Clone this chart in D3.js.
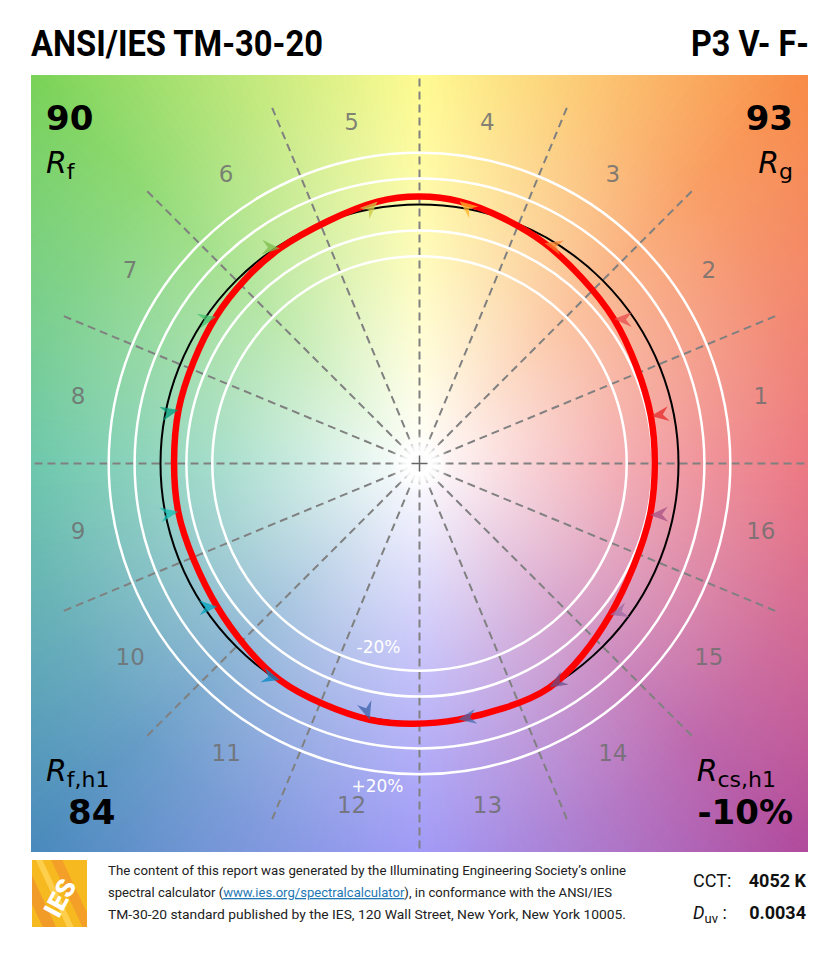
<!DOCTYPE html>
<html>
<head>
<meta charset="utf-8">
<script src="https://cdn.jsdelivr.net/npm/d3@7"></script>
<style>
  html, body { margin: 0; padding: 0; background: #fff; }
  svg { display: block; }
</style>
</head>
<body>
<div id="chart"></div>
<script>
// hue bins 1..16
const binLabels = ["1","2","3","4","5","6","7","8","9","10","11","12","13","14","15","16"]
// test hue angle (deg) and relative chroma for each bin
const testHue = [11.6, 36.6, 60.4, 81.3, 99.1, 123.0, 144.2, 167.5, 191.3, 215.3, 237.2, 259.0, 278.6, 300.1, 321.5, 347.4]
const testRadius = [0.912, 0.935, 0.978, 1.024, 1.024, 0.99, 0.969, 0.953, 0.95, 0.957, 0.995, 1.008, 1.0, 1.0, 0.94, 0.912]
const binColors = ["#e62828","#e74b4b","#fb812e","#ffb529","#cbca46","#7eb94c","#41c06d","#009c7c",
                   "#16bcb0","#00a4bf","#0085c3","#3b62aa","#4568ae","#6a4e85","#9d69a1","#a74f81"]
const ringLevels = [0.8, 0.9, 1.1, 1.2]
const ringLabels = ["-20%", "+20%"]

// background hue wheel stops (deg)
const bgAngles = [0, 45, 90, 135, 180, 225, 270, 315, 360]
const bgColors = ["#e85a66","#f88a44","#fffa78","#78d256","#4cbb98","#4688bb","#8c84f5","#b0489b","#e85a66"]

const title = "ANSI/IES TM-30-20"
const sourceName = "P3 V- F-"
const Rf = "90", Rg = "93", Rfh1 = "84", Rcsh1 = "-10%"
const cctValue = "4052 K", duvValue = "0.0034"
const footerLines = [
  "The content of this report was generated by the Illuminating Engineering Society\u2019s online",
  ["spectral calculator (", "www.ies.org/spectralcalculator", "), in conformance with the ANSI/IES"],
  "TM-30-20 standard published by the IES, 120 Wall Street, New York, New York 10005."
]

const W = 839, H = 960
const plot = {x: 31, y: 75, size: 777}
const cx = plot.x + plot.size / 2, cy = plot.y + plot.size / 2
const R = 259

const svg = d3.select("#chart").append("svg")
    .attr("width", W).attr("height", H)
    .attr("viewBox", [0, 0, W, H])

const defs = svg.append("defs")
defs.append("clipPath").attr("id", "plotclip")
    .append("rect")
    .attr("x", plot.x).attr("y", plot.y)
    .attr("width", plot.size).attr("height", plot.size)

const glow = defs.append("radialGradient").attr("id", "whiteglow")
    .attr("gradientUnits", "userSpaceOnUse")
    .attr("cx", cx).attr("cy", cy).attr("r", 560)
;[[0,1],[0.05,0.93],[0.2,0.72],[0.35,0.52],[0.5,0.36],[0.7,0.18],[1,0]].forEach(s => {
  glow.append("stop").attr("offset", s[0]).attr("stop-color", "#fff").attr("stop-opacity", s[1])
})
const centerGlow = defs.append("radialGradient").attr("id", "centerglow")
;[[0,1],[0.55,0.9],[1,0]].forEach(s => {
  centerGlow.append("stop").attr("offset", s[0]).attr("stop-color", "#fff").attr("stop-opacity", s[1])
})

// scales
const rScale = d3.scaleLinear().domain([0, 1]).range([0, R])
const toRad = d => (90 - d) * Math.PI / 180      // math degrees -> d3 radial angle
const hueColor = d3.scaleLinear().domain(bgAngles).range(bgColors).interpolate(d3.interpolateRgb)
const px = (hue, r) => cx + r * Math.cos(hue * Math.PI / 180)
const py = (hue, r) => cy - r * Math.sin(hue * Math.PI / 180)

//background wheel
const bg = svg.append("g").attr("clip-path", "url(#plotclip)")
const arc = d3.arc().innerRadius(0).outerRadius(600)
bg.selectAll("path.wedge")
    .data(d3.range(0, 360, 1)).enter()
    .append("path")
    .attr("class", "wedge")
    .attr("transform", `translate(${cx},${cy})`)
    .attr("d", a => arc({startAngle: toRad(a + 0.6), endAngle: toRad(a - 0.6)}))
    .attr("fill", a => hueColor(a))
    .attr("stroke", a => hueColor(a)).attr("stroke-width", 0.6)
bg.append("rect")
    .attr("x", plot.x).attr("y", plot.y)
    .attr("width", plot.size).attr("height", plot.size)
    .attr("fill", "url(#whiteglow)")

// bin boundary lines
const g = svg.append("g")
g.selectAll("line.bin")
    .data(d3.range(16).map(i => i * 22.5)).enter()
    .append("line")
    .attr("x1", cx).attr("y1", cy)
    .attr("x2", d => px(d, 389)).attr("y2", d => py(d, 389))
    .attr("stroke", "#808080").attr("stroke-width", 2)
    .attr("stroke-dasharray", "8,5")
g.append("circle").attr("cx", cx).attr("cy", cy).attr("r", 30).attr("fill", "url(#centerglow)")
g.append("path")
    .attr("d", `M${cx - 8},${cy}H${cx + 8}M${cx},${cy - 8}V${cy + 8}`)
    .attr("stroke", "#666").attr("stroke-width", 1.5)

// hue bin labels
g.selectAll("text.binlabel")
    .data(binLabels).enter()
    .append("text")
    .attr("x", (d, i) => px((i + 0.5) * 22.5, 348))
    .attr("y", (d, i) => py((i + 0.5) * 22.5, 348))
    .attr("text-anchor", "middle").attr("dominant-baseline", "central")
    .style("font-family", "'DejaVu Sans', Verdana, sans-serif").style("font-size", "23px")
    .attr("fill", "#6f6f6f").attr("fill-opacity", 0.85)
    .text(d => d)

// rings
g.selectAll("circle.ring")
    .data(ringLevels).enter()
    .append("circle")
    .attr("cx", cx).attr("cy", cy).attr("r", d => rScale(d))
    .attr("fill", "none").attr("stroke", "#fff").attr("stroke-width", 2.5)
g.append("text")
    .attr("x", cx - 41).attr("y", cy + rScale(0.8) - 18)
    .attr("text-anchor", "middle")
    .style("font-family", "'DejaVu Sans', Verdana, sans-serif").style("font-size", "17px")
    .attr("fill", "#fff").text(ringLabels[0])
g.append("text")
    .attr("x", cx - 42).attr("y", cy + rScale(1.2) + 18)
    .attr("text-anchor", "middle")
    .style("font-family", "'DejaVu Sans', Verdana, sans-serif").style("font-size", "17px")
    .attr("fill", "#fff").text(ringLabels[1])

// reference circle
g.append("circle")
    .attr("cx", cx).attr("cy", cy).attr("r", rScale(1))
    .attr("fill", "none").attr("stroke", "#000").attr("stroke-width", 2)

// test curve
const testPts = testHue.map((h, i) => ({hue: h, r: testRadius[i], i}))
const radialLine = d3.lineRadial()
    .angle(d => toRad(d.hue))
    .radius(d => rScale(d.r))
    .curve(d3.curveCardinalClosed.tension(0.1))
g.append("path")
    .attr("transform", `translate(${cx},${cy})`)
    .attr("d", radialLine(testPts))
    .attr("fill", "none").attr("stroke", "#ff0000").attr("stroke-width", 6.5)
    .attr("stroke-linejoin", "round")

// arrows: reference bin centre -> test point
g.selectAll("path.arrow")
    .data(testPts).enter()
    .append("path")
    .attr("class", "arrow")
    .attr("d", "M0,0L-18,-7.5L-12,0L-18,7.5Z")
    .attr("transform", d => {
      const refHue = (d.i + 0.5) * 22.5
      const x0 = px(refHue, rScale(1)), y0 = py(refHue, rScale(1))
      const x1 = px(d.hue, rScale(d.r)), y1 = py(d.hue, rScale(d.r))
      const ang = Math.atan2(y1 - y0, x1 - x0) * 180 / Math.PI
      return `translate(${x1},${y1}) rotate(${ang})`
    })
    .attr("fill", d => binColors[d.i]).attr("fill-opacity", 0.75)

// corner metrics
const statFont = "'DejaVu Sans', Verdana, sans-serif"
const corner = svg.append("g").style("font-family", statFont)
function bigNum(x, y, anchor, txt){
  corner.append("text").attr("x", x).attr("y", y).attr("text-anchor", anchor)
      .style("font-size", "34px").style("font-weight", "bold").attr("fill", "#000").text(txt)
}
function rLabel(x, y, anchor, sub){
  const t = corner.append("text").attr("x", x).attr("y", y).attr("text-anchor", anchor)
      .style("font-size", "30px").attr("fill", "#000")
  t.append("tspan").style("font-style", "italic").text("R")
  t.append("tspan").attr("dy", 6).style("font-size", "22px").text(sub)
}
bigNum(46, 130, "start", Rf)
rLabel(46, 173, "start", "f")
bigNum(793, 130, "end", Rg)
rLabel(793, 173, "end", "g")
rLabel(46, 781, "start", "f,h1")
bigNum(68, 824, "start", Rfh1)
rLabel(776, 781, "end", "cs,h1")
bigNum(793, 824, "end", Rcsh1)

// titles
svg.append("text").attr("x", 31).attr("y", 56)
    .style("font-family", "Roboto, sans-serif").style("font-size", "37px").style("font-weight", "bold")
    .attr("textLength", 292).attr("lengthAdjust", "spacingAndGlyphs")
    .text(title)
svg.append("text").attr("x", 809).attr("y", 56).attr("text-anchor", "end")
    .style("font-family", "Roboto, sans-serif").style("font-size", "37px").style("font-weight", "bold")
    .attr("textLength", 118).attr("lengthAdjust", "spacingAndGlyphs")
    .text(sourceName)

// footer: logo
const logo = svg.append("g")
defs.append("clipPath").attr("id", "logoclip")
    .append("rect").attr("x", 32).attr("y", 860).attr("width", 55).attr("height", 67)
logo.append("rect").attr("x", 32).attr("y", 860).attr("width", 55).attr("height", 67).attr("fill", "#f6b91f")
const stripes = logo.append("g").attr("clip-path", "url(#logoclip)")
;[[-10, 10, "#f39a2a"], [12, 8, "#ffd256"], [30, 12, "#f0952a"], [52, 6, "#ffd256"], [66, 10, "#f39a2a"]].forEach(s => {
  stripes.append("rect").attr("x", s[0]).attr("y", 830).attr("width", s[1]).attr("height", 140)
      .attr("transform", "rotate(-25,60,893)").attr("fill", s[2]).attr("opacity", 0.85)
})
logo.append("text")
    .attr("transform", "translate(60,898) rotate(-62)")
    .attr("text-anchor", "middle").attr("dominant-baseline", "central")
    .style("font-family", "Roboto, sans-serif").style("font-size", "26px").style("font-weight", "900")
    .attr("fill", "#fff").text("IES")

// footer text
const foot = svg.append("g").style("font-family", "Roboto, sans-serif").style("font-size", "13px").attr("fill", "#222")
const footLens = [518, 504, 518]
footerLines.forEach((ln, i) => {
  const t = foot.append("text").attr("x", 108).attr("y", 875 + i * 22)
      .attr("textLength", footLens[i]).attr("lengthAdjust", "spacingAndGlyphs")
  if (Array.isArray(ln)) {
    t.append("tspan").text(ln[0])
    t.append("tspan").attr("fill", "#1f78b4").style("text-decoration", "underline").text(ln[1])
    t.append("tspan").text(ln[2])
  } else t.text(ln)
})

const stats = svg.append("g").style("font-family", "Roboto, sans-serif").style("font-size", "18px").attr("fill", "#111")
stats.append("text").attr("x", 693).attr("y", 887).text("CCT:")
stats.append("text").attr("x", 806).attr("y", 887).attr("text-anchor", "end").style("font-weight", "bold").text(cctValue)
const duv = stats.append("text").attr("x", 693).attr("y", 919)
duv.append("tspan").style("font-style", "italic").text("D")
duv.append("tspan").attr("dy", 4).style("font-size", "13px").text("uv")
duv.append("tspan").attr("dy", -4).text(" :")
stats.append("text").attr("x", 806).attr("y", 919).attr("text-anchor", "end").style("font-weight", "bold").text(duvValue)
</script>
</body>
</html>
